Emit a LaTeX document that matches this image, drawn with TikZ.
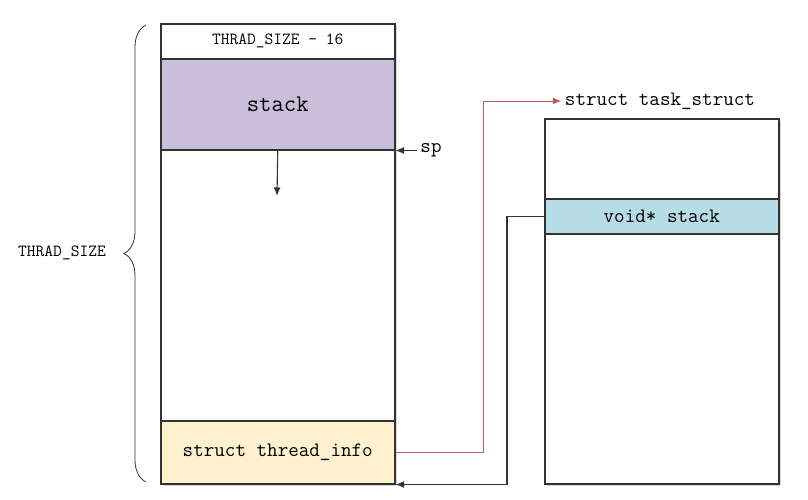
\documentclass[tikz,border=0pt]{standalone}
\usepackage{tikz}
\usetikzlibrary{positioning,arrows.meta,decorations.pathreplacing,shadows}

\definecolor{stackpurple}{RGB}{201,191,219}
\definecolor{infoyellow}{RGB}{255,241,208}
\definecolor{fieldblue}{RGB}{182,220,230}
\definecolor{linkred}{RGB}{192,92,92}
\definecolor{edge}{RGB}{50,50,50}

\begin{document}
\begin{tikzpicture}[
  x=1pt, y=-1pt,
  font=\ttfamily\fontsize{20.5}{24}\selectfont,
  cell/.style={draw=edge, line width=1.5pt, anchor=north west, minimum width=234pt, inner sep=0pt, fill=white},
  outer/.style={cell, drop shadow={opacity=0.3, shadow xshift=2pt, shadow yshift=-2pt}},
  capslbl/.style={font=\ttfamily\fontsize{17}{20}\selectfont},
  ptr/.style={-{Latex[length=3mm, width=2.4mm]}, line width=1.1pt, edge},
  redptr/.style={ptr, linkred, line width=0.9pt}
]
\useasboundingbox (0,0) rectangle (808,499);

% thread stack (left column)
\node[outer, minimum height=460pt] (thread) at (160,23) {};
\node[cell, minimum height=35pt] (hdr) at (160,23) {};
\node[capslbl] at (hdr.center) {THRAD\_SIZE - 16};
\node[cell, fill=stackpurple, minimum height=91pt, font=\ttfamily\fontsize{24}{28}\selectfont] (stk) at (160,58) {stack};
\node[cell, minimum height=271pt] (free) at (160,149) {};
\node[cell, fill=infoyellow, minimum height=63pt] (tinfo) at (160,420) {struct thread\_info};

% task_struct (right column)
\node[outer, minimum height=365pt] (task) at (544,118) {};
\node[cell, fill=fieldblue, minimum height=35pt] (vstk) at (544,198) {void* stack};
\node (tasklbl) at (660,101) {struct task\_struct};

% size brace
\draw[edge, line width=0.8pt, decorate, decoration={brace, amplitude=22pt}] (146,482) -- (146,25);
\node[capslbl] (size) at (62,253) {THRAD\_SIZE};

% stack pointer
\node (sp) at (431,150) {sp};
\draw[ptr] (sp.west |- stk.south east) -- (stk.south east);
\coordinate (grow) at (277,196);
\draw[ptr] (stk.south) -- (grow);

% pointers between the two structs
\draw[redptr] (tinfo.east) -- ++(88,0) |- (tasklbl.west);
\draw[ptr] (vstk.west) -- ++(-37,0) |- (tinfo.south east);
\end{tikzpicture}
\end{document}
